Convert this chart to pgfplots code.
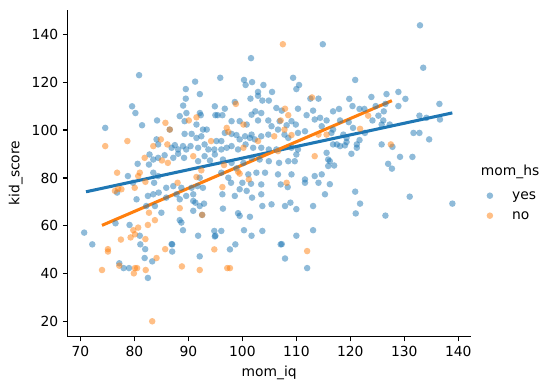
\documentclass[border=0pt]{standalone}
\usepackage{pgfplots}
\pgfplotsset{compat=1.18}
\usepackage{pgfplotstable}
\usepackage{fontspec}
\setmainfont{DejaVu Sans}
\definecolor{tabblue}{HTML}{1F77B4}
\definecolor{taborange}{HTML}{FF7F0E}

\pgfplotstableread{
x y
80.87 122.9
89.52 117.1
91.25 120.2
92.12 115.0
114.9 135.8
101.6 130.0
95.9 121.8
100.3 120.9
100.6 118.8
101.8 120.0
103.9 118.8
109.4 121.8
110.5 118.8
110.0 117.1
105.5 115.9
102.9 115.9
116.8 107.8
115.6 104.0
132.9 143.7
133.5 126.0
120.9 120.9
119.8 113.0
120.4 110.0
123.9 113.8
126.7 115.0
128.9 115.9
128.9 110.0
130.2 113.0
126.5 110.9
124.7 110.0
121.7 108.8
122.6 108.8
117.9 108.8
126.2 107.8
125.2 106.0
124.1 104.0
126.1 104.0
136.5 110.9
132.8 106.0
134.1 105.1
136.6 104.4
119.7 103.3
118.1 104.0
116.8 100.2
120.5 100.9
122.7 98.8
125.8 102.3
127.3 102.3
131.7 98.8
132.8 98.8
134.6 96.1
118.7 98.1
119.3 96.7
116.8 94.0
117.5 94.0
118.1 93.3
119.0 93.6
119.3 95.0
121.2 94.0
121.2 92.6
121.7 95.8
120.2 90.1
125.8 94.0
127.8 93.0
129.2 88.8
131.5 88.8
127.0 85.9
127.7 83.9
117.0 85.2
116.2 87.0
116.2 77.4
120.9 74.3
121.8 69.3
121.0 65.2
126.5 64.3
131.0 72.2
138.9 69.3
70.7 57.2
72.2 52.3
81.1 52.3
82.0 50.3
77.2 44.4
78.0 42.4
79.0 42.4
81.9 46.6
83.3 45.2
82.5 38.3
87.0 52.3
87.0 49.3
92.1 47.3
94.9 55.6
97.7 50.2
98.7 52.3
107.1 52.3
107.9 46.4
112.0 42.4
74.6 100.9
76.8 73.9
76.5 61.1
116.5 98.8
115.6 90.5
115.9 87.7
115.9 85.0
115.3 73.2
89.52 113.1
98.6 111.7
101.5 113.1
102.9 114.3
103.7 112.3
104.9 112.3
112.6 113.1
114.1 113.1
79.57 109.9
80.19 107.1
89.03 110.2
89.64 107.1
92.12 107.1
94.9 109.9
96.75 108.9
102.4 107.8
103.5 107.1
106.3 109.2
107.3 108.1
110.3 108.9
113.1 108.1
95.4 106.2
81.42 102.0
84.2 104.0
88.4 105.8
89.3 103.7
92.3 106.2
91.5 102.3
92.7 100.2
95.0 106.2
96.3 106.2
98.0 103.7
99.5 103.7
100.8 102.3
101.7 106.4
102.9 104.0
104.8 104.0
105.4 101.6
106.9 103.7
108.2 102.0
109.1 103.7
109.9 102.3
111.9 106.2
113.4 104.4
114.4 105.1
114.7 101.6
84.1 96.1
86.55 100.2
89.3 98.4
90.6 98.4
91.5 96.7
92.4 97.4
93.4 100.2
95.2 95.4
96.1 95.4
96.75 98.8
98.0 98.4
98.9 97.9
99.5 96.1
100.5 97.4
101.4 96.7
101.7 98.1
102.3 96.1
103.5 97.4
104.8 98.1
106.6 100.2
107.8 98.1
108.5 96.7
110.3 98.8
111.6 99.5
84.4 94.0
86.9 92.6
87.5 93.7
88.1 91.9
89.0 93.3
89.6 91.9
90.4 93.3
91.8 92.6
93.0 94.0
93.7 91.9
94.8 91.9
96.1 91.9
97.1 92.6
98.0 93.3
99.2 91.9
100.6 94.0
102.0 92.6
103.5 92.6
104.9 91.9
106.3 91.9
109.1 92.6
110.3 91.9
82.8 89.8
83.5 87.7
84.4 88.4
85.6 89.5
87.2 88.4
88.1 90.1
89.2 88.4
91.8 87.0
93.0 89.1
94.0 87.3
94.9 89.8
96.4 87.7
98.0 86.3
100.2 86.3
101.7 88.4
103.2 87.7
104.9 87.0
106.8 86.3
108.5 87.0
109.7 87.0
110.0 89.8
80.6 85.9
82.7 85.6
78.8 80.8
83.5 82.2
84.4 80.8
92.1 80.1
96.1 82.2
97.4 80.1
98.9 84.0
101.1 81.5
102.6 82.2
104.2 82.2
106.6 81.5
109.1 81.5
111.6 79.4
113.4 80.8
114.7 81.5
79.75 78.0
83.65 78.0
85.9 75.9
87.2 76.6
88.7 75.9
90.6 75.9
91.7 76.6
92.7 75.9
97.9 78.0
100.0 78.0
101.6 77.6
103.5 77.3
107.1 77.3
108.4 76.2
111.6 78.0
114.1 78.0
80.4 71.1
82.5 72.5
83.5 73.2
84.5 73.9
85.9 71.8
87.8 73.2
88.4 71.1
89.6 72.5
90.9 73.2
90.9 70.4
91.3 69.7
92.9 69.3
96.3 73.2
98.6 72.5
99.5 75.3
100.8 74.6
101.8 71.8
103.5 73.2
103.7 68.3
105.4 69.0
107.9 68.3
108.9 69.7
110.0 67.0
82.2 68.3
83.8 68.3
85.0 65.5
90.9 66.3
92.1 68.3
92.55 64.6
96.4 67.2
99.2 65.3
99.5 64.2
101.4 63.8
113.1 68.3
79.1 60.4
81.0 55.9
88.4 62.4
88.7 61.4
89.0 58.2
86.9 52.4
91.8 55.9
94.8 57.9
95.0 55.9
96.1 57.9
100.3 58.2
101.7 55.9
103.7 57.9
107.3 52.4
110.0 55.9
113.1 58.2
}\yesdata

\pgfplotstableread{
x y
107.5 135.8
123.3 106.0
121.8 100.5
127.5 94.0
77.5 54.3
75.1 50.3
75.1 49.3
77.2 43.4
80.1 42.4
80.5 42.4
79.9 40.2
74.0 41.6
82.1 41.6
84.1 46.6
85.7 50.3
88.8 43.1
92.1 41.6
83.3 20.2
94.8 50.2
97.2 42.4
97.7 42.4
112.0 49.5
74.6 93.3
76.8 82.2
77.0 75.5
77.6 75.3
76.4 74.6
79.3 55.2
115.6 98.1
114.1 98.1
112.9 113.6
98.8 110.9
107.9 108.9
108.5 106.2
85.75 103.0
90.08 104.0
91.5 105.3
100.2 102.3
107.1 104.0
78.7 95.4
84.9 96.1
86.1 94.0
86.55 100.2
94.2 95.4
97.1 100.9
97.4 99.2
102.9 95.4
105.9 97.4
107.8 100.2
109.1 97.9
83.5 93.3
100.2 92.6
106.6 91.2
81.9 88.4
85.1 87.3
86.2 86.3
90.9 89.1
96.6 85.4
113.4 89.1
81.0 82.2
80.7 80.8
82.04 78.4
92.4 83.2
91.5 80.4
99.2 82.6
99.5 81.8
101.2 79.4
80.06 75.9
88.0 78.0
96.3 76.2
108.2 78.0
82.7 65.5
88.4 67.4
92.55 64.6
79.8 58.2
80.1 56.5
80.7 59.3
82.04 54.5
82.5 60.4
83.8 62.4
}\nodata

\pgfplotstableread{
x y
71.04 74.24
138.89 107.15
}\yesfit

\pgfplotstableread{
x y
74.0 60.23
127.7 112.26
}\nofit

\begin{document}
\begin{tikzpicture}[font=\fontsize{10.4pt}{12.5pt}\selectfont]
\begin{axis}[
  scale only axis,
  width=302.2pt, height=245.2pt,
  xmin=67.65, xmax=142.28, ymin=13.8, ymax=150.2,
  axis lines*=left,
  axis line style={line width=0.83pt},
  every tick/.style={black, line width=0.83pt},
  major tick length=3.6pt,
  tick align=outside,
  xtick={70,80,...,140}, ytick={20,40,...,140},
  /pgf/number format/assume math mode=true,
  ticklabel style={font=\fontsize{10.4pt}{12.5pt}\selectfont},
  xlabel={mom\_iq}, ylabel={kid\_score},
  label style={font=\fontsize{10.4pt}{12.5pt}\selectfont},
  clip=false,
  legend style={at={(axis description cs:1,0.4687)}, xshift=8.55pt, anchor=north west, draw=none, fill=none,
    font=\fontsize{10.4pt}{12.5pt}\selectfont, row sep=1pt,
    nodes={text height=7.5pt, text depth=2.5pt}},
  legend cell align=left,
  legend image code/.code={\draw[#1] plot coordinates {(0pt,0pt)}; \path (-2.5pt,0pt) (14.5pt,0pt);},
]
\addplot[only marks, mark=*, mark size=2.45pt, mark options={fill=tabblue, draw=tabblue, draw opacity=0, fill opacity=0.5}] table {\yesdata};
\addlegendentry{yes}
\addplot[only marks, mark=*, mark size=2.45pt, mark options={fill=taborange, draw=taborange, draw opacity=0, fill opacity=0.5}] table {\nodata};
\addlegendentry{no}
\addplot[tabblue, line width=2.3pt, forget plot] table {\yesfit};
\addplot[taborange, line width=2.3pt, forget plot] table {\nofit};
\node[anchor=center] at (axis description cs:1.098,0.504) {mom\_hs};
\end{axis}
\path (-50.8pt,-40pt) rectangle (364.0pt,252.5pt);
\end{tikzpicture}
\end{document}
